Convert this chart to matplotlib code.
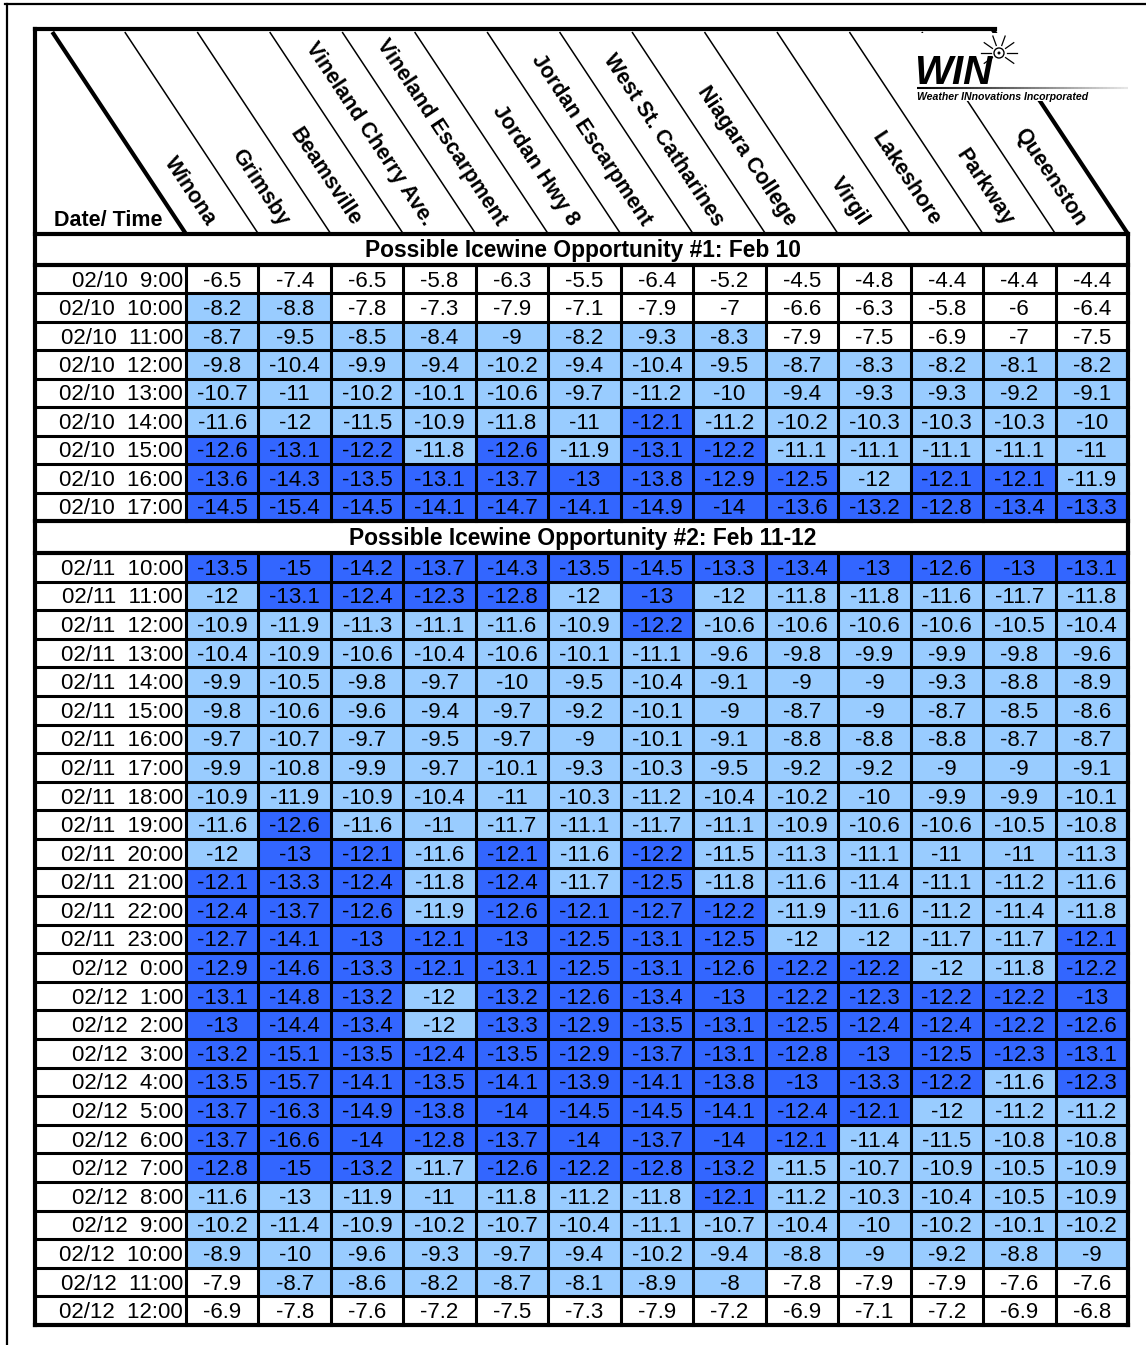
import matplotlib.pyplot as plt
from matplotlib.patches import Rectangle, Circle
from matplotlib.collections import LineCollection
import numpy as np

plt.rcParams['font.family'] = ['Liberation Sans', 'DejaVu Sans']

stations = ['Winona', 'Grimsby', 'Beamsville', 'Vineland Cherry Ave.', 'Vineland Escarpment',
            'Jordan Hwy 8', 'Jordan Escarpment', 'West St. Catharines', 'Niagara College',
            'Virgil', 'Lakeshore', 'Parkway', 'Queenston']

title_1 = 'Possible Icewine Opportunity #1: Feb 10'
title_2 = 'Possible Icewine Opportunity #2: Feb 11-12'

times_1 = ['02/10  9:00', '02/10  10:00', '02/10  11:00', '02/10  12:00', '02/10  13:00',
           '02/10  14:00', '02/10  15:00', '02/10  16:00', '02/10  17:00']
temps_1 = [
    [-6.5, -7.4, -6.5, -5.8, -6.3, -5.5, -6.4, -5.2, -4.5, -4.8, -4.4, -4.4, -4.4],
    [-8.2, -8.8, -7.8, -7.3, -7.9, -7.1, -7.9, -7, -6.6, -6.3, -5.8, -6, -6.4],
    [-8.7, -9.5, -8.5, -8.4, -9, -8.2, -9.3, -8.3, -7.9, -7.5, -6.9, -7, -7.5],
    [-9.8, -10.4, -9.9, -9.4, -10.2, -9.4, -10.4, -9.5, -8.7, -8.3, -8.2, -8.1, -8.2],
    [-10.7, -11, -10.2, -10.1, -10.6, -9.7, -11.2, -10, -9.4, -9.3, -9.3, -9.2, -9.1],
    [-11.6, -12, -11.5, -10.9, -11.8, -11, -12.1, -11.2, -10.2, -10.3, -10.3, -10.3, -10],
    [-12.6, -13.1, -12.2, -11.8, -12.6, -11.9, -13.1, -12.2, -11.1, -11.1, -11.1, -11.1, -11],
    [-13.6, -14.3, -13.5, -13.1, -13.7, -13, -13.8, -12.9, -12.5, -12, -12.1, -12.1, -11.9],
    [-14.5, -15.4, -14.5, -14.1, -14.7, -14.1, -14.9, -14, -13.6, -13.2, -12.8, -13.4, -13.3],
]

times_2 = ['02/11  10:00', '02/11  11:00', '02/11  12:00', '02/11  13:00', '02/11  14:00',
           '02/11  15:00', '02/11  16:00', '02/11  17:00', '02/11  18:00', '02/11  19:00',
           '02/11  20:00', '02/11  21:00', '02/11  22:00', '02/11  23:00', '02/12  0:00',
           '02/12  1:00', '02/12  2:00', '02/12  3:00', '02/12  4:00', '02/12  5:00',
           '02/12  6:00', '02/12  7:00', '02/12  8:00', '02/12  9:00', '02/12  10:00',
           '02/12  11:00', '02/12  12:00']
temps_2 = [
    [-13.5, -15, -14.2, -13.7, -14.3, -13.5, -14.5, -13.3, -13.4, -13, -12.6, -13, -13.1],
    [-12, -13.1, -12.4, -12.3, -12.8, -12, -13, -12, -11.8, -11.8, -11.6, -11.7, -11.8],
    [-10.9, -11.9, -11.3, -11.1, -11.6, -10.9, -12.2, -10.6, -10.6, -10.6, -10.6, -10.5, -10.4],
    [-10.4, -10.9, -10.6, -10.4, -10.6, -10.1, -11.1, -9.6, -9.8, -9.9, -9.9, -9.8, -9.6],
    [-9.9, -10.5, -9.8, -9.7, -10, -9.5, -10.4, -9.1, -9, -9, -9.3, -8.8, -8.9],
    [-9.8, -10.6, -9.6, -9.4, -9.7, -9.2, -10.1, -9, -8.7, -9, -8.7, -8.5, -8.6],
    [-9.7, -10.7, -9.7, -9.5, -9.7, -9, -10.1, -9.1, -8.8, -8.8, -8.8, -8.7, -8.7],
    [-9.9, -10.8, -9.9, -9.7, -10.1, -9.3, -10.3, -9.5, -9.2, -9.2, -9, -9, -9.1],
    [-10.9, -11.9, -10.9, -10.4, -11, -10.3, -11.2, -10.4, -10.2, -10, -9.9, -9.9, -10.1],
    [-11.6, -12.6, -11.6, -11, -11.7, -11.1, -11.7, -11.1, -10.9, -10.6, -10.6, -10.5, -10.8],
    [-12, -13, -12.1, -11.6, -12.1, -11.6, -12.2, -11.5, -11.3, -11.1, -11, -11, -11.3],
    [-12.1, -13.3, -12.4, -11.8, -12.4, -11.7, -12.5, -11.8, -11.6, -11.4, -11.1, -11.2, -11.6],
    [-12.4, -13.7, -12.6, -11.9, -12.6, -12.1, -12.7, -12.2, -11.9, -11.6, -11.2, -11.4, -11.8],
    [-12.7, -14.1, -13, -12.1, -13, -12.5, -13.1, -12.5, -12, -12, -11.7, -11.7, -12.1],
    [-12.9, -14.6, -13.3, -12.1, -13.1, -12.5, -13.1, -12.6, -12.2, -12.2, -12, -11.8, -12.2],
    [-13.1, -14.8, -13.2, -12, -13.2, -12.6, -13.4, -13, -12.2, -12.3, -12.2, -12.2, -13],
    [-13, -14.4, -13.4, -12, -13.3, -12.9, -13.5, -13.1, -12.5, -12.4, -12.4, -12.2, -12.6],
    [-13.2, -15.1, -13.5, -12.4, -13.5, -12.9, -13.7, -13.1, -12.8, -13, -12.5, -12.3, -13.1],
    [-13.5, -15.7, -14.1, -13.5, -14.1, -13.9, -14.1, -13.8, -13, -13.3, -12.2, -11.6, -12.3],
    [-13.7, -16.3, -14.9, -13.8, -14, -14.5, -14.5, -14.1, -12.4, -12.1, -12, -11.2, -11.2],
    [-13.7, -16.6, -14, -12.8, -13.7, -14, -13.7, -14, -12.1, -11.4, -11.5, -10.8, -10.8],
    [-12.8, -15, -13.2, -11.7, -12.6, -12.2, -12.8, -13.2, -11.5, -10.7, -10.9, -10.5, -10.9],
    [-11.6, -13, -11.9, -11, -11.8, -11.2, -11.8, -12.1, -11.2, -10.3, -10.4, -10.5, -10.9],
    [-10.2, -11.4, -10.9, -10.2, -10.7, -10.4, -11.1, -10.7, -10.4, -10, -10.2, -10.1, -10.2],
    [-8.9, -10, -9.6, -9.3, -9.7, -9.4, -10.2, -9.4, -8.8, -9, -9.2, -8.8, -9],
    [-7.9, -8.7, -8.6, -8.2, -8.7, -8.1, -8.9, -8, -7.8, -7.9, -7.9, -7.6, -7.6],
    [-6.9, -7.8, -7.6, -7.2, -7.5, -7.3, -7.9, -7.2, -6.9, -7.1, -7.2, -6.9, -6.8],
]

# cells shaded light in the original although their value is in the dark range
light_cells = [('02/12  8:00', 'Grimsby')]

LIGHT = '#99ccff'
DARK = '#3366ff'


def cell_colour(v, t, name):
    if (t, name) in light_cells:
        return LIGHT
    if v <= -12.05:
        return DARK
    if v <= -7.95:
        return LIGHT
    return 'white'


fig = plt.figure(figsize=(11.46, 13.45), dpi=100)
ax = fig.add_axes([0, 0, 1, 1])
ax.set_xlim(0, 1146)
ax.set_ylim(1345, 0)
ax.axis('off')

# layout (pixels)
left, date_right, right = 35, 186, 1128
top, head_bot = 29, 234
col_w = (right - date_right) / len(stations)
col_x = date_right + col_w * np.arange(len(stations) + 1)
slope = 133 / 201.0
ang = -np.degrees(np.arctan2(201, 133))
lw_thin, lw_cell, lw_box = 1.1, 2.2, 3.0


def draw_block(times, temps, y0, y1):
    h = (y1 - y0) / len(times)
    for r, (t, row) in enumerate(zip(times, temps)):
        yc = y0 + h * (r + 0.5) + 2
        ax.text(date_right - 3, yc, t, ha='right', va='center', fontsize=16)
        for c, v in enumerate(row):
            ax.add_patch(Rectangle((col_x[c], y0 + h * r), col_w, h,
                                   facecolor=cell_colour(v, t, stations[c]),
                                   edgecolor='#888888', lw=0.4))
            ax.text(col_x[c] + col_w / 2, yc, f'{v:g}', ha='center', va='center', fontsize=16)
        if r > 0:
            ax.plot([left, right], [y0 + h * r] * 2, color='black', lw=lw_cell)
    for x in col_x[:-1]:
        ax.plot([x, x], [y0, y1], color='black', lw=lw_cell)


draw_block(times_1, temps_1, 265, 521)
draw_block(times_2, temps_2, 553, 1325)

# section titles
ax.text((left + right) / 2 + 1, 251, title_1, ha='center', va='center', fontsize=16.4, fontweight='bold')
ax.text((left + right) / 2 + 1, 538, title_2, ha='center', va='center', fontsize=16.4, fontweight='bold')

# header diagonals
for k, xb in enumerate(col_x):
    y_start = top if k == len(stations) else 32
    xt = xb - slope * (head_bot - y_start)
    lw = lw_box if k in (0, len(stations)) else lw_thin
    ax.plot([xt, xb], [y_start, head_bot], color='black', lw=lw, solid_capstyle='butt')

for j, name in enumerate(stations):
    d = 10
    xa = col_x[j] + col_w / 2 - slope * d - 4
    ya = head_bot - d
    ax.text(xa, ya, name, rotation=ang, rotation_mode='anchor', ha='right', va='center',
            fontsize=15.5, fontweight='bold')

ax.text(54, 226, 'Date/ Time', ha='left', va='baseline', fontsize=15.5, fontweight='bold')

# table borders
ax.plot([left, 995], [top, top], color='black', lw=lw_box, solid_capstyle='projecting')
ax.plot([left, left], [top, 1325], color='black', lw=lw_box)
ax.plot([left, right], [1325, 1325], color='black', lw=lw_box, solid_capstyle='projecting')
ax.plot([right, right], [head_bot, 1325], color='black', lw=lw_box)
for y in (head_bot, 265, 521, 553):
    ax.plot([left, right], [y, y], color='black', lw=lw_box)

# page frame
ax.plot([5, 1146], [4, 4], color='black', lw=1.6)
ax.plot([7, 7], [4, 1345], color='black', lw=1.6)

# logo
ax.add_patch(Rectangle((915, 33), 215, 68, facecolor='white', edgecolor='none', zorder=5))
ax.text(914, 84, 'WIN', fontsize=29, fontweight='heavy', fontstyle='italic',
        ha='left', va='baseline', zorder=6)
ax.add_patch(Circle((999, 53), 5, facecolor='white', edgecolor='black', lw=1.0, zorder=6))
ax.add_patch(Circle((999, 53), 1.5, facecolor='black', zorder=6))
for a in (0, 35, 70, 110, 145, 180, 215, 325):
    t = np.radians(a)
    ax.plot([999 + 8 * np.cos(t), 999 + 18 * np.cos(t)],
            [53 - 8 * np.sin(t), 53 - 18 * np.sin(t)], color='black', lw=0.9, zorder=6)
gx = np.linspace(917, 1128, 60)
segs = [[(gx[i], 88), (gx[i + 1], 88)] for i in range(len(gx) - 1)]
greys = [str(0.9 * i / (len(segs) - 1)) for i in range(len(segs))]
ax.add_collection(LineCollection(segs, colors=greys, linewidths=1.5, zorder=6))
ax.text(917, 97, 'Weather INnovations Incorporated', fontsize=7.6, fontweight='bold',
        fontstyle='italic', ha='left', va='center', zorder=6)

fig.savefig('out.png', dpi=100)
